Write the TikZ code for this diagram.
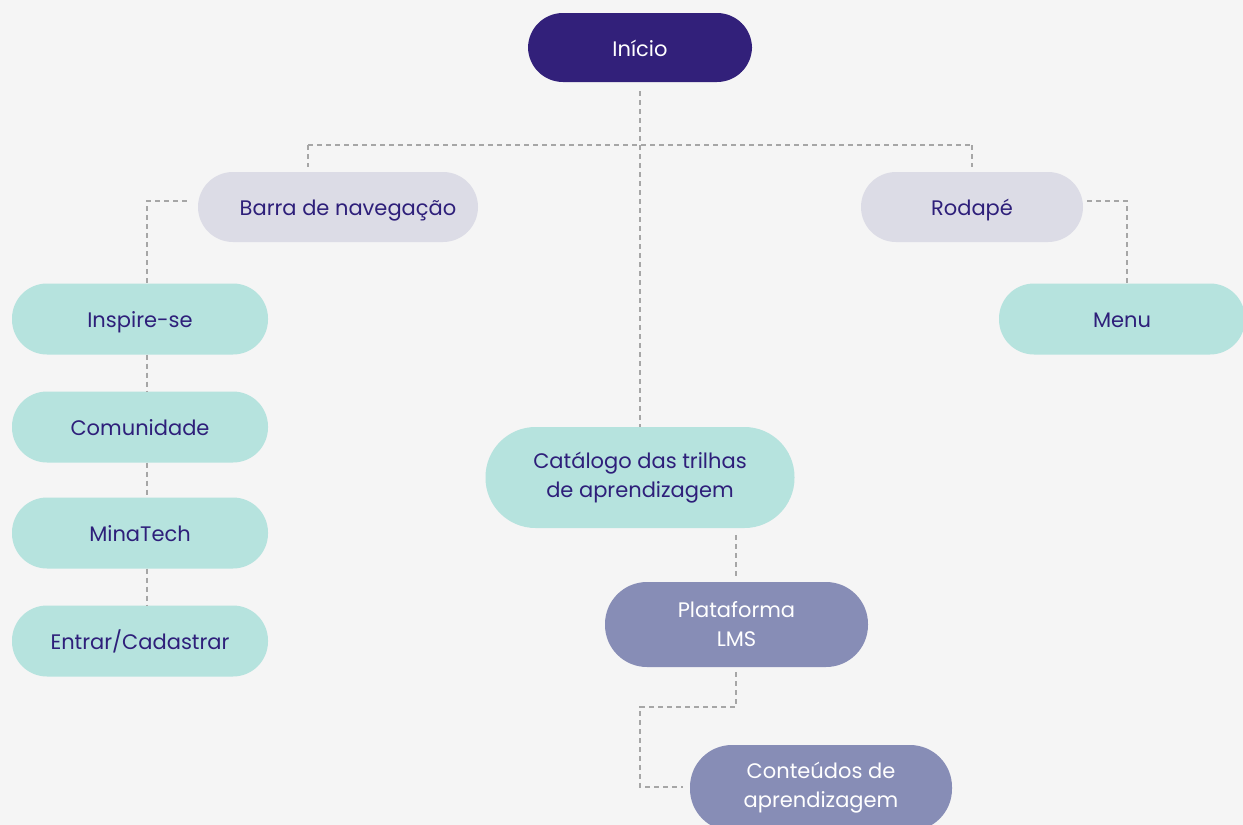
\documentclass[tikz,border=0pt]{standalone}
\usepackage{fontspec}
\setmainfont{Poppins}
\definecolor{bg}{HTML}{F5F5F5}
\definecolor{ink}{HTML}{2E1F7A}
\definecolor{darkp}{HTML}{32207A}
\definecolor{grayn}{HTML}{DCDCE6}
\definecolor{teal}{HTML}{B6E3DE}
\definecolor{slate}{HTML}{878DB6}
\definecolor{conn}{HTML}{A6A6A6}
\newcommand{\lowtxt}[1]{\raisebox{-3pt}{#1}}
\begin{document}
\begin{tikzpicture}[x=1pt,y=-1pt,
  pill/.style={rectangle, rounded corners=#1, inner sep=0pt, align=center,
    font=\fontsize{21}{29}\selectfont, text=ink},
  pill/.default=35pt,
  top/.style={pill, fill=darkp, text=white},
  grey/.style={pill, fill=grayn},
  tealn/.style={pill, fill=teal},
  slaten/.style={pill=42pt, fill=slate, text=white},
  link/.style={draw=conn, line width=1.6pt, dash pattern=on 5pt off 4pt}]
\useasboundingbox (0,0) rectangle (1243,825);
\clip (0,0) rectangle (1243,825);
\fill[bg] (0,0) rectangle (1243,825);

\node[top, minimum width=224pt, minimum height=69pt] (inicio) at (640,47.5) {\strut\lowtxt{Início}};
\node[grey, minimum width=280pt, minimum height=70pt] (barra) at (338,207) {\strut\hspace{20pt}\lowtxt{Barra de navegação}};
\node[grey, minimum width=222pt, minimum height=70pt] (rodape) at (972,207) {\strut\lowtxt{Rodapé}};
\node[tealn, minimum width=256pt, minimum height=71pt] (insp) at (140,319) {\strut\lowtxt{Inspire-se}};
\node[tealn, minimum width=256pt, minimum height=71pt] (comun) at (140,427) {\strut\lowtxt{Comunidade}};
\node[tealn, minimum width=256pt, minimum height=71pt] (mina) at (140,533) {\strut\lowtxt{MinaTech}};
\node[tealn, minimum width=256pt, minimum height=71pt] (entrar) at (140,641) {\strut\lowtxt{Entrar/Cadastrar}};
\node[tealn, minimum width=246pt, minimum height=71pt] (menu) at (1122,319) {\strut\lowtxt{Menu}};
\node[pill=50pt, fill=teal, minimum width=309pt, minimum height=101pt] (cat) at (640,477.5) {Catálogo das trilhas\\de aprendizagem};
\node[slaten, minimum width=263pt, minimum height=85pt] (plat) at (736.5,624.5) {Plataforma\\LMS};
\node[slaten, minimum width=262pt, minimum height=86pt] (cont) at (821,788) {Conteúdos de\\aprendizagem};

\coordinate (hl) at (308,145);
\coordinate (hr) at (972,145);
\coordinate (bl) at (147,201);
\coordinate (rr) at (1127,201);
\coordinate (pl) at (736,707);
\coordinate (pc) at (640,707);
\coordinate (pd) at (640,787);

\draw[link, shorten <=9pt] (inicio.south) -- (cat.north);
\draw[link] (hl) -- (hr);
\draw[link, shorten >=5pt] (hl) -- (hl |- barra.north);
\draw[link, shorten >=5pt] (hr) -- (rodape.north);
\draw[link, shorten <=11pt] (barra.west |- bl) -- (bl) -- (insp.north -| bl);
\draw[link] (insp.south -| bl) -- (comun.north -| bl);
\draw[link] (comun.south -| bl) -- (mina.north -| bl);
\draw[link] (mina.south -| bl) -- (entrar.north -| bl);
\draw[link, shorten <=4pt] (rodape.east |- rr) -- (rr) -- (menu.north -| rr);
\draw[link, shorten <=7pt, shorten >=5pt] (cat.south -| pl) -- (plat.north -| pl);
\draw[link, shorten <=5pt, shorten >=7pt] (plat.south -| pl) -- (pl) -- (pc) -- (pd) -- (cont.west |- pd);
\end{tikzpicture}
\end{document}
